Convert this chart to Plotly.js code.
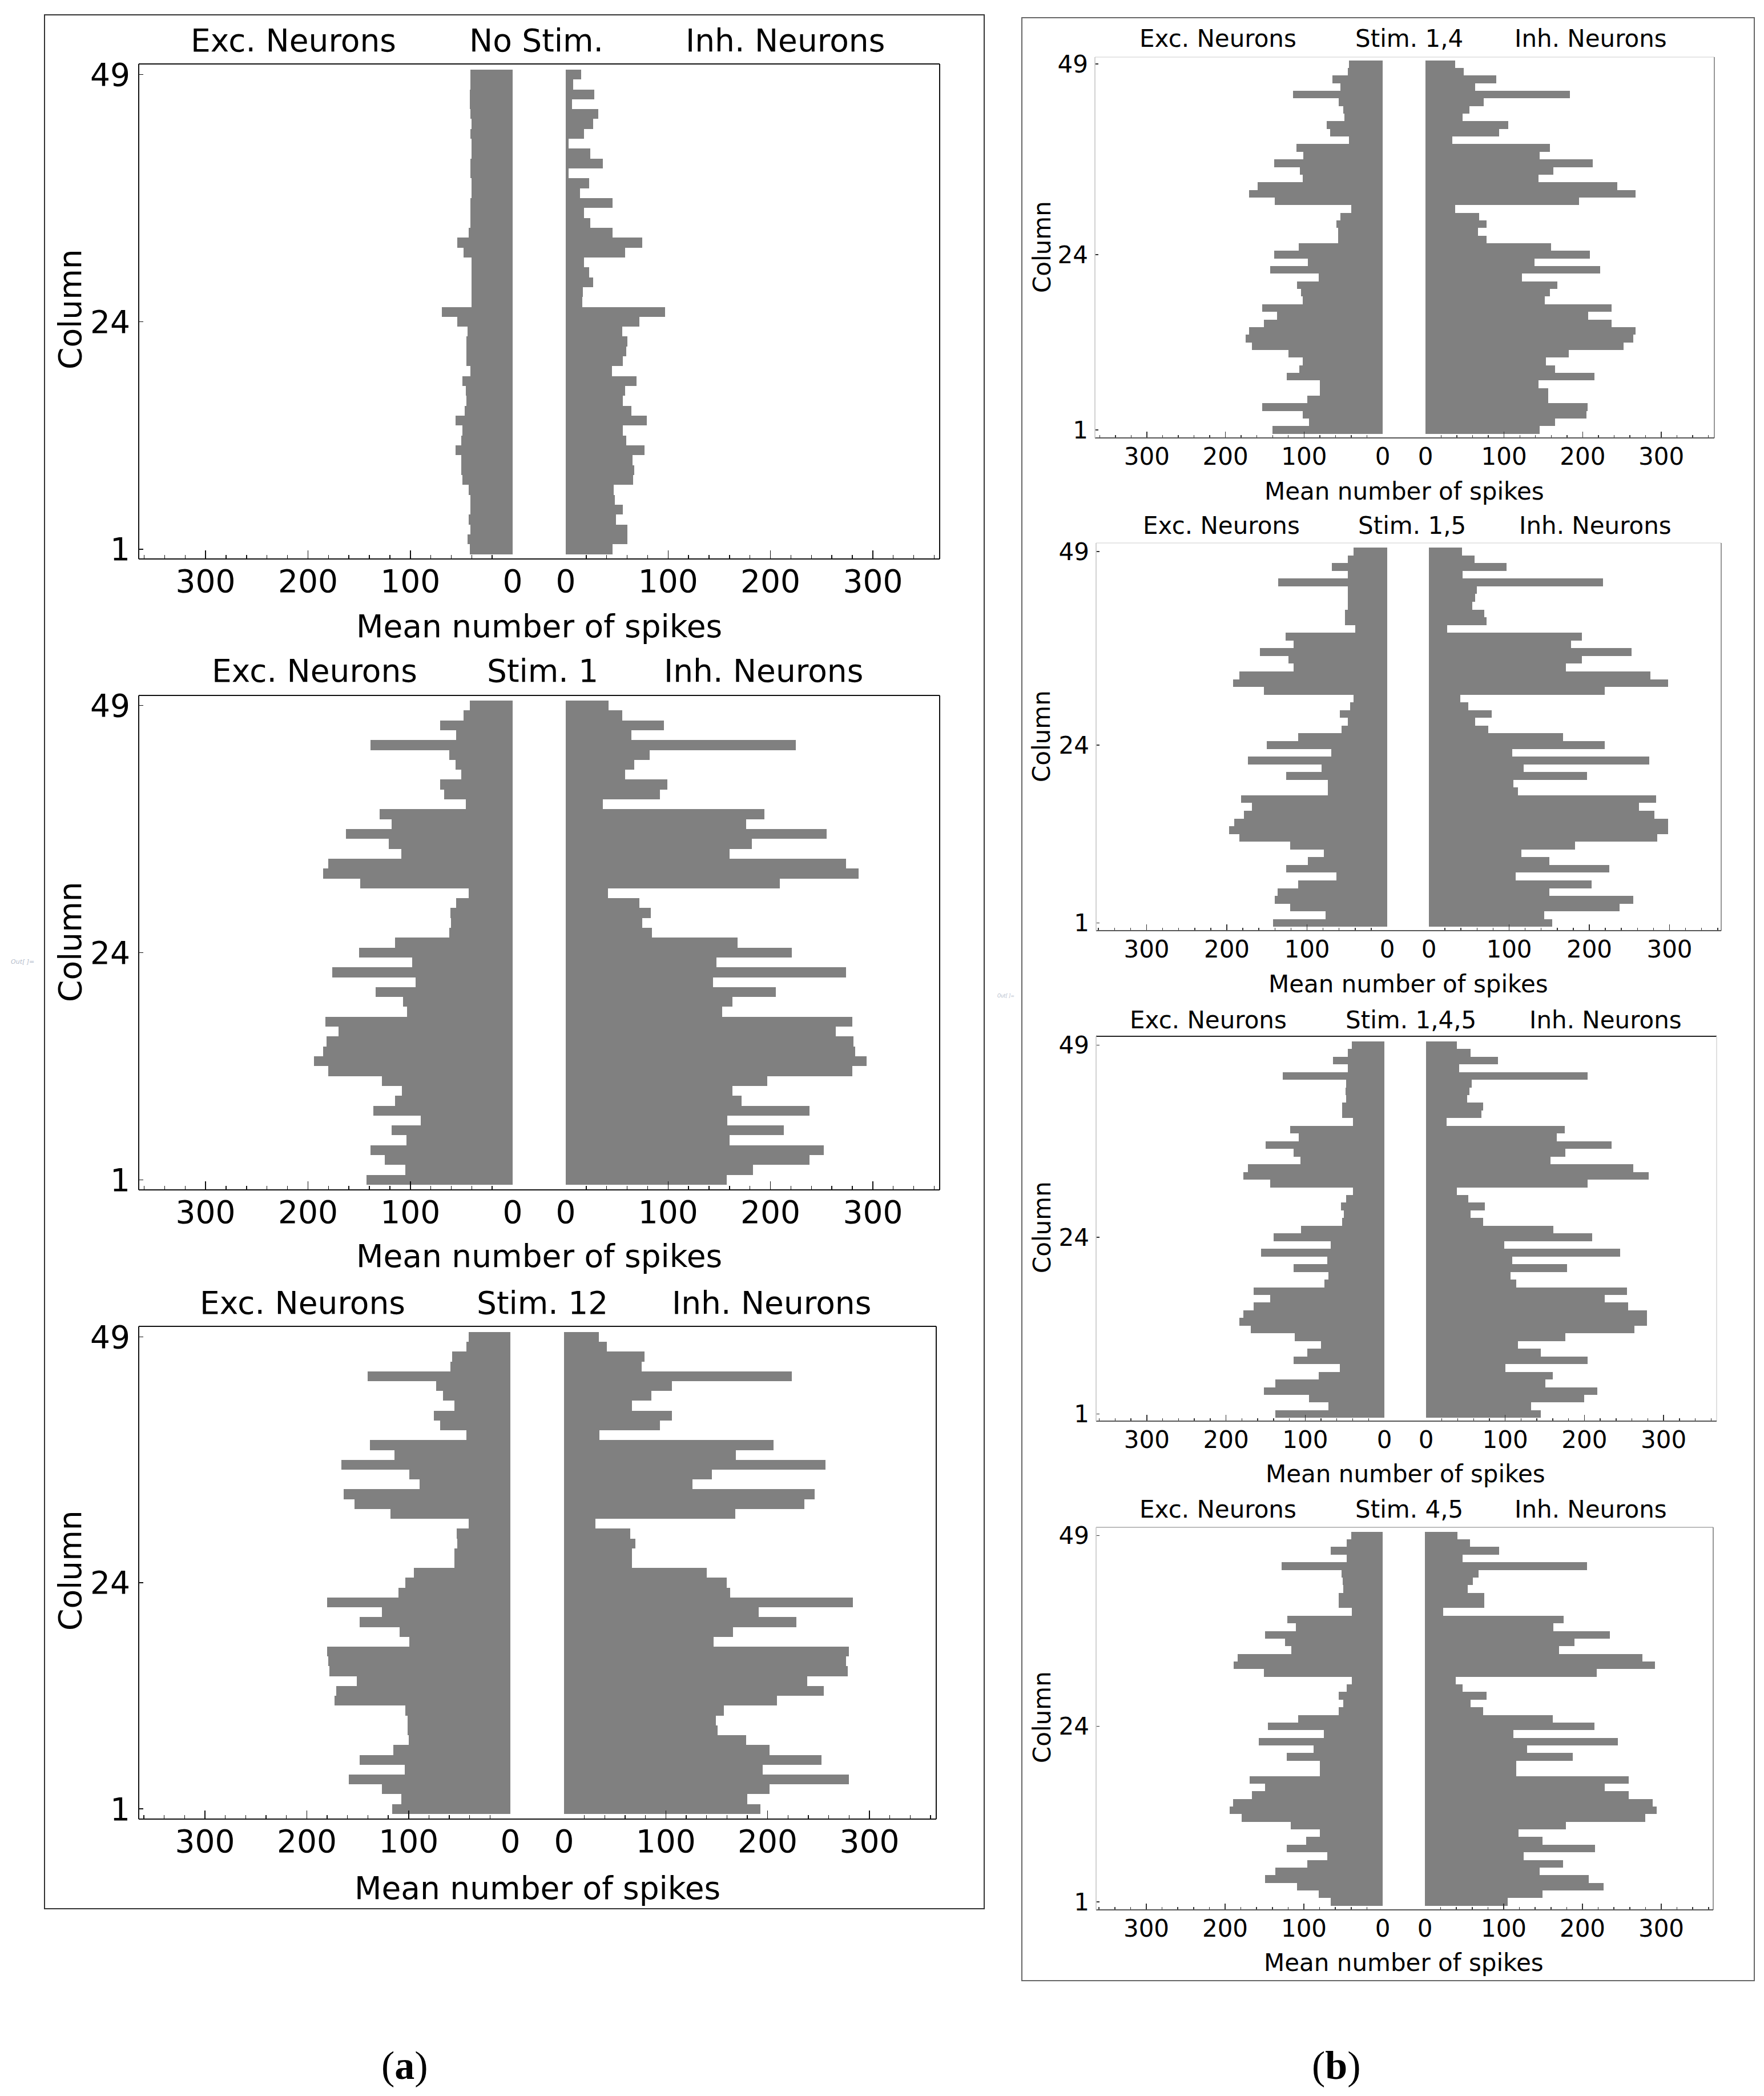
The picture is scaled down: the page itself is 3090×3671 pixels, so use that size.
<!DOCTYPE html>
<html>
<head>
<meta charset="utf-8">
<script src="https://cdn.plot.ly/plotly-3.0.1.min.js"></script>
<style>
  html, body { margin: 0; padding: 0; background: #ffffff; }
  #chart { width: 3090px; height: 3671px; }
</style>
</head>
<body>
<div id="chart"></div>
<script>
// ---------------- DATA (columns 1..49, bottom to top) ----------------
const columns = [1,2,3,4,5,6,7,8,9,10,11,12,13,14,15,16,17,18,19,20,21,22,23,24,25,
                 26,27,28,29,30,31,32,33,34,35,36,37,38,39,40,41,42,43,44,45,46,47,48,49];

const panelTitles = ["No Stim.", "Stim. 1", "Stim. 12", "Stim. 1,4", "Stim. 1,5", "Stim. 1,4,5", "Stim. 4,5"];
const sideLabels = ["Exc. Neurons", "Inh. Neurons"];
const xAxisLabel = "Mean number of spikes";
const yAxisLabel = "Column";
const yTickVals = [1, 24, 49];
const xTickVals = [0, 100, 200, 300];
const figureLabels = ["(<b>a</b>)", "(<b>b</b>)"];

// (a) No Stim.
const excNoStim = [42,44,41,43,41,41,43,49,50,50,56,50,49,56,47,45,46,49,41,45,45,45,44,54,69,
                   40,40,40,40,40,48,54,43,41,41,41,40,40,41,41,40,40,41,40,41,42,42,41,41];
const inhNoStim = [46,60,60,49,56,48,47,66,67,65,77,59,56,79,64,56,58,69,45,56,59,60,55,72,97,
                   16,17,27,23,18,58,75,46,24,18,46,14,23,3,36,24,3,18,27,32,6,28,7,15];
// (a) Stim. 1
const excStim1 = [143,105,125,139,104,118,90,136,115,108,128,180,194,185,182,170,183,103,107,134,95,176,98,150,115,
                  62,60,61,55,43,149,185,180,109,121,163,118,130,46,67,71,50,56,62,139,55,71,48,42];
const inhStim1 = [157,183,238,252,160,213,158,238,172,163,197,280,294,283,281,264,280,153,163,205,144,274,147,221,168,
                  84,75,83,72,41,209,286,274,160,182,255,176,194,36,92,99,58,67,82,225,64,96,55,42];
// (a) Stim. 12
const excStim12 = [116,107,126,159,104,148,115,100,101,101,103,173,171,151,178,179,180,99,109,148,126,180,110,103,95,
                   55,55,52,53,41,118,153,164,89,99,166,114,138,43,69,75,55,66,73,140,59,57,43,41];
const inhStim12 = [193,180,202,280,195,253,202,179,151,149,157,209,255,239,279,277,280,147,166,228,191,284,163,160,140,
                   67,67,70,65,31,168,236,246,126,145,257,169,206,35,94,106,67,86,106,224,76,79,42,34];
// (b) Stim. 1,4
const excStim14 = [140,94,102,153,96,80,80,122,106,102,120,166,174,170,151,134,153,102,104,109,81,143,95,138,107,
                   57,57,59,54,40,137,170,159,102,105,138,101,110,43,67,71,49,50,56,114,54,64,44,43];
const inhStim14 = [145,165,205,206,156,156,144,215,165,153,182,252,264,267,237,207,237,152,158,168,123,222,139,209,160,
                   78,67,78,68,38,195,267,244,144,163,213,145,158,34,94,105,47,56,74,184,63,90,49,38];
// (b) Stim. 1,5
const excStim15 = [142,77,121,140,137,111,63,126,99,79,121,184,197,191,179,169,182,74,74,126,82,174,70,150,111,
                   57,49,59,46,42,154,192,184,117,123,159,117,127,40,53,53,49,49,49,136,49,69,49,42];
const inhStim15 = [154,144,238,255,150,203,108,225,150,115,182,285,298,298,281,262,283,111,105,197,118,275,104,219,167,
                   74,58,78,49,39,219,298,276,171,191,253,177,191,23,72,69,54,58,60,217,42,97,57,41];
// (b) Stim. 1,4,5
const excStim145 = [138,71,95,152,138,83,56,115,97,80,113,169,183,178,165,144,165,76,71,115,72,156,68,140,105,
                    53,51,55,48,40,144,178,172,106,115,150,108,119,40,53,53,48,49,48,128,46,65,46,41];
const inhStim145 = [145,133,200,216,151,160,100,204,145,116,176,263,279,279,255,226,254,114,107,178,109,245,99,210,161,
                    72,56,74,53,39,204,281,262,157,176,234,165,175,26,70,72,52,55,58,204,42,91,56,39];
// (b) Stim. 4,5
const excStim45 = [66,81,109,149,136,96,70,122,97,80,117,179,194,190,166,149,169,80,80,122,88,157,75,146,107,
                   56,50,56,46,39,151,189,184,116,124,149,110,121,39,56,56,50,51,52,128,46,66,46,40];
const inhStim45 = [105,149,227,208,146,175,125,216,149,119,179,280,294,289,259,228,259,116,116,188,130,245,112,215,162,
                   74,58,78,48,39,218,292,276,170,190,235,163,176,23,75,75,54,61,68,206,48,94,57,41];

const excSeries = [excNoStim, excStim1, excStim12, excStim14, excStim15, excStim145, excStim45];
const inhSeries = [inhNoStim, inhStim1, inhStim12, inhStim14, inhStim15, inhStim145, inhStim45];

// ---------------- LAYOUT GEOMETRY (pixels of the 3090 x 3671 page) ----------------
const W = 3090, H = 3671;
const FONT = "DejaVu Sans, Verdana, sans-serif";
const BAR = "#808080";
const geom = [
  {L:243, R:1646, T:112,  B:979,  e0:898,  i0:991,  ppu:1.793, yr:[0.01,50.07], fs:55, ty:71,   tx:[514,939,1375],   aty:1097, colx:123,  coly:542,  frame:["#111","#111","#111","#111"], tl:15, ml:7, so:2},
  {L:243, R:1646, T:1218, B:2084, e0:898,  i0:991,  ppu:1.793, yr:[-0.02,50.02], fs:55, ty:1175, tx:[551,950,1337],   aty:2200, colx:123,  coly:1650, frame:["#111","#111","#111","#111"], tl:15, ml:7, so:2},
  {L:243, R:1640, T:2323, B:3186, e0:894,  i0:988,  ppu:1.783, yr:[-0.03,50.07], fs:55, ty:2282, tx:[530,950,1351],   aty:3307, colx:123,  coly:2751, frame:["#111","#111","#111","#111"], tl:15, ml:7, so:2},
  {L:1918,R:3003, T:100,  B:767,  e0:2422, i0:2497, ppu:1.377, yr:[-0.04,49.92], fs:42, ty:67,   tx:[2133,2468,2786], aty:861,  colx:1825, coly:433,  frame:["#e6e6e6","#8a8a8a","#555","#cccccc"], tl:11, ml:5, so:4},
  {L:1920,R:3015, T:951,  B:1630, e0:2430, i0:2503, ppu:1.405, yr:[0.01,50.1],  fs:42, ty:921,  tx:[2139,2473,2794], aty:1724, colx:1825, coly:1290, frame:["#e6e6e6","#8a8a8a","#555","#cccccc"], tl:11, ml:5, so:4},
  {L:1920,R:3007, T:1815, B:2489, e0:2425, i0:2498, ppu:1.387, yr:[0.08,50.15], fs:42, ty:1786, tx:[2116,2471,2812], aty:2581, colx:1825, coly:2150, frame:["#222","#dddddd","#555","#cccccc"], tl:11, ml:5, so:4},
  {L:1920,R:3001, T:2675, B:3345, e0:2422, i0:2496, ppu:1.380, yr:[-0.04,50.08], fs:42, ty:2643, tx:[2133,2468,2786], aty:3437, colx:1825, coly:3008, frame:["#bdbdbd","#8a8a8a","#555","#cccccc"], tl:11, ml:5, so:4}
];

const px = v => v / W;
const py = v => 1 - v / H;

const traces = [];
const layout = {
  width: W, height: H,
  margin: {l:0, r:0, t:0, b:0, pad:0},
  paper_bgcolor: "#ffffff",
  plot_bgcolor: "rgba(0,0,0,0)",
  showlegend: false,
  font: {family: FONT, color: "#000"},
  bargap: 0,
  shapes: [],
  annotations: []
};

geom.forEach((g, i) => {
  const xa = 2*i + 1, xb = 2*i + 2, ya = 2*i + 1, yb = 2*i + 2;
  const lmax = (g.e0 - g.L) / g.ppu;
  const rmax = (g.R - g.i0) / g.ppu;
  const tickFont = {family: FONT, size: g.fs, color: "#000"};
  const tickCol = i < 3 ? "#111" : "#333";
  const xCommon = {
    tickmode: "array", tickvals: xTickVals, ticks: "inside", ticklen: g.tl, tickwidth: 1.6, tickcolor: tickCol,
    minor: {tickmode: "linear", tick0: 0, dtick: 20, ticks: "inside", ticklen: g.ml, tickwidth: 1.4, tickcolor: tickCol, showgrid: false},
    showgrid: false, zeroline: false, showline: false, tickfont: tickFont, fixedrange: true,
    ticklabelstandoff: g.so
  };
  layout["xaxis" + xa] = Object.assign({}, xCommon, {
    domain: [px(g.L), px(g.e0)], range: [lmax, 0], anchor: "y" + ya
  });
  layout["xaxis" + xb] = Object.assign({}, xCommon, {
    domain: [px(g.i0), px(g.R)], range: [0, rmax], anchor: "y" + ya
  });
  layout["yaxis" + ya] = {
    domain: [py(g.B), py(g.T)], range: g.yr, anchor: "x" + xa,
    tickmode: "array", tickvals: yTickVals, ticks: "inside", ticklen: g.ml + 1, tickwidth: 1.6, tickcolor: tickCol,
    showgrid: false, zeroline: false, showline: false, tickfont: tickFont, fixedrange: true,
    ticklabelstandoff: Math.round(g.fs * 0.25)
  };
  layout["yaxis" + yb] = {
    range: g.yr, anchor: "x" + xb, overlaying: "y" + ya, side: "right",
    tickmode: "array", tickvals: columns, ticks: "inside", ticklen: g.ml, tickwidth: 1.4, tickcolor: tickCol,
    showticklabels: false, showgrid: false, zeroline: false, showline: false, fixedrange: true
  };

  traces.push({
    type: "bar", orientation: "h", x: excSeries[i], y: columns, width: 1,
    xaxis: "x" + xa, yaxis: "y" + ya,
    marker: {color: BAR, line: {width: 0}}, hoverinfo: "skip"
  });
  traces.push({
    type: "bar", orientation: "h", x: inhSeries[i], y: columns, width: 1,
    xaxis: "x" + xb, yaxis: "y" + ya,
    marker: {color: BAR, line: {width: 0}}, hoverinfo: "skip"
  });

  // plot frame: top, right, bottom, left
  const lw = i < 3 ? 2 : 1.8;
  layout.shapes.push({type:"line", xref:"paper", yref:"paper", x0:px(g.L), x1:px(g.R), y0:py(g.T), y1:py(g.T), line:{color:g.frame[0], width:lw}});
  layout.shapes.push({type:"line", xref:"paper", yref:"paper", x0:px(g.R), x1:px(g.R), y0:py(g.T), y1:py(g.B), line:{color:g.frame[1], width:lw}});
  layout.shapes.push({type:"line", xref:"paper", yref:"paper", x0:px(g.L), x1:px(g.R), y0:py(g.B), y1:py(g.B), line:{color:g.frame[2], width:lw}});
  layout.shapes.push({type:"line", xref:"paper", yref:"paper", x0:px(g.L), x1:px(g.L), y0:py(g.T), y1:py(g.B), line:{color:g.frame[3], width:lw}});

  // header texts
  const heads = [sideLabels[0], panelTitles[i], sideLabels[1]];
  heads.forEach((t, k) => {
    layout.annotations.push({xref:"paper", yref:"paper", x:px(g.tx[k]), y:py(g.ty), text:t, showarrow:false,
      xanchor:"center", yanchor:"middle", font:{family:FONT, size:g.fs, color:"#000"}});
  });
  // axis titles
  layout.annotations.push({xref:"paper", yref:"paper", x:px((g.e0 + g.i0) / 2), y:py(g.aty), text:xAxisLabel, showarrow:false,
    xanchor:"center", yanchor:"middle", font:{family:FONT, size:g.fs, color:"#000"}});
  layout.annotations.push({xref:"paper", yref:"paper", x:px(g.colx), y:py(g.coly), text:yAxisLabel, showarrow:false, textangle:-90,
    xanchor:"center", yanchor:"middle", font:{family:FONT, size:g.fs, color:"#000"}});
});

// outer panel borders
layout.shapes.push({type:"rect", xref:"paper", yref:"paper", x0:px(78), x1:px(1724), y0:py(26), y1:py(3343), line:{color:"#333", width:2}});
layout.shapes.push({type:"rect", xref:"paper", yref:"paper", x0:px(1790), x1:px(3073), y0:py(31), y1:py(3469), line:{color:"#666", width:2}});

// figure labels (a), (b)
layout.annotations.push({xref:"paper", yref:"paper", x:px(709), y:py(3617), text:figureLabels[0], showarrow:false,
  xanchor:"center", yanchor:"middle", font:{family:"Liberation Serif, Times New Roman, serif", size:70, color:"#000"}});
layout.annotations.push({xref:"paper", yref:"paper", x:px(2341), y:py(3617), text:figureLabels[1], showarrow:false,
  xanchor:"center", yanchor:"middle", font:{family:"Liberation Serif, Times New Roman, serif", size:70, color:"#000"}});

// small notebook marks
layout.annotations.push({xref:"paper", yref:"paper", x:px(39), y:py(1685), text:"<i>Out[ ]=</i>", showarrow:false,
  xanchor:"center", yanchor:"middle", font:{family:FONT, size:11, color:"#b4bccb"}});
layout.annotations.push({xref:"paper", yref:"paper", x:px(1762), y:py(1745), text:"<i>Out[ ]=</i>", showarrow:false,
  xanchor:"center", yanchor:"middle", font:{family:FONT, size:8, color:"#b4bccb"}});

Plotly.newPlot("chart", traces, layout, {displayModeBar: false, staticPlot: true});
</script>
</body>
</html>
